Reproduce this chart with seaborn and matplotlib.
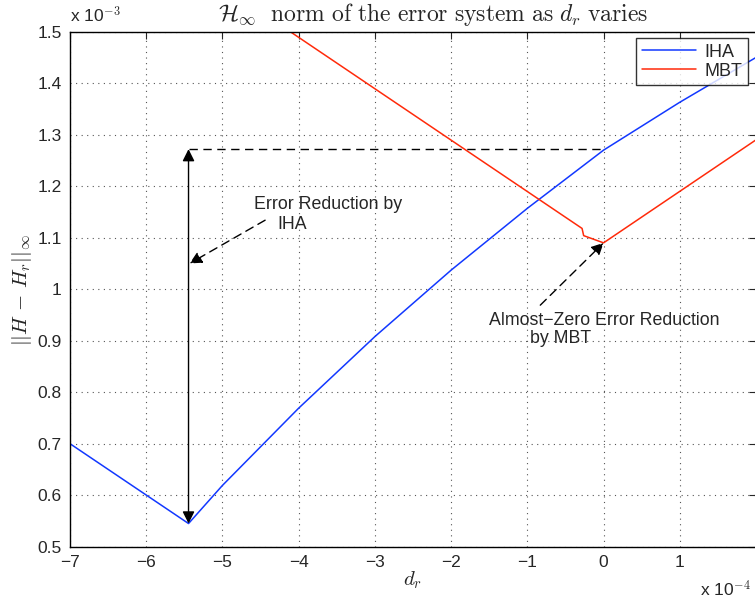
import numpy as np
import pandas as pd
import matplotlib
matplotlib.use("Agg")
import matplotlib.pyplot as plt
import seaborn as sns

# data (x in units of 1e-4, y in units of 1e-3)
iha_x = [-7.0, -5.445, -5.0, -4.0, -3.0, -2.0, -1.0, 0.0, 1.0, 2.0]
iha_y = [0.700, 0.545, 0.619, 0.769, 0.908, 1.037, 1.157, 1.270, 1.363, 1.450]
mbt_x = [-4.11, -0.282, -0.261, 0.0, 2.0]
mbt_y = [1.500, 1.118, 1.104, 1.090, 1.290]
x_ticks = [-7, -6, -5, -4, -3, -2, -1, 0, 1, 2]
x_labels = ["\u22127", "\u22126", "\u22125", "\u22124", "\u22123", "\u22122", "\u22121", "0", "1", ""]
y_ticks = [0.5, 0.6, 0.7, 0.8, 0.9, 1.0, 1.1, 1.2, 1.3, 1.4, 1.5]
y_labels = ["0.5", "0.6", "0.7", "0.8", "0.9", "1", "1.1", "1.2", "1.3", "1.4", "1.5"]

sns.set_style("white")
plt.rcParams['font.family'] = ['Liberation Sans', 'DejaVu Sans']
plt.rcParams['mathtext.fontset'] = 'cm'

df = pd.concat([
    pd.DataFrame({"x": iha_x, "y": iha_y, "method": "IHA"}),
    pd.DataFrame({"x": mbt_x, "y": mbt_y, "method": "MBT"}),
])

fig = plt.figure(figsize=(7.55, 5.99), dpi=100)
ax = fig.add_axes([70/755, (599-546.7)/599, (756-70)/755, (546.7-31.7)/599])
sns.lineplot(data=df, x="x", y="y", hue="method", sort=False, estimator=None,
             palette={"IHA": "#1238ff", "MBT": "#ff2a0a"}, linewidth=1.1, ax=ax,
             legend=False)

ax.set_xlim(-7, 2)
ax.set_ylim(0.5, 1.5)
ax.set_xticks(x_ticks)
ax.set_xticklabels(x_labels, fontsize=12.5)
ax.set_yticks(y_ticks)
ax.set_yticklabels(y_labels, fontsize=12.5)
ax.tick_params(direction='in', top=True, right=True, length=5, width=0.8, pad=6)
ax.grid(True, linestyle=(0, (1, 4)), color='#555555', linewidth=0.8)
for s in ax.spines.values():
    s.set_color('black')
    s.set_linewidth(1.0)
ax.set_xlabel("")
ax.set_ylabel("")

# legend
from matplotlib.lines import Line2D
handles = [Line2D([], [], color="#1238ff", lw=1.1), Line2D([], [], color="#ff2a0a", lw=1.1)]
leg = ax.legend(handles, ["IHA", "MBT"], loc='upper right', bbox_to_anchor=(0.9885, 0.987),
                fontsize=13, frameon=True, fancybox=False, handlelength=3.0,
                handletextpad=0.5, borderpad=0.3, labelspacing=0.1, borderaxespad=0)
leg.get_frame().set_edgecolor('black')
leg.get_frame().set_linewidth(1.0)

# annotations
xv, ytop = -5.445, 1.272
ax.plot([xv, 0.0], [ytop, ytop], color='black', linestyle=(0, (6, 4)), linewidth=1.0)
ax.annotate("", xy=(xv, ytop), xytext=(xv, 0.545),
            arrowprops=dict(arrowstyle='<|-|>', color='black', lw=1.0,
                            mutation_scale=18, shrinkA=0, shrinkB=0))
ax.annotate("", xy=(-5.43, 1.050), xytext=(-4.44, 1.134),
            arrowprops=dict(arrowstyle='-|>', color='black', lw=1.0, linestyle=(0, (6, 4)),
                            mutation_scale=18, shrinkA=0, shrinkB=0))
ax.annotate("", xy=(0.0, 1.090), xytext=(-0.83, 0.969),
            arrowprops=dict(arrowstyle='-|>', color='black', lw=1.0, linestyle=(0, (6, 4)),
                            mutation_scale=18, shrinkA=0, shrinkB=0))
ax.text(-3.62, 1.164, "Error Reduction by", ha='center', va='center', fontsize=12.8)
ax.text(-4.08, 1.125, "IHA", ha='center', va='center', fontsize=12.8)
ax.text(0.01, 0.939, "Almost\u2212Zero Error Reduction", ha='center', va='center', fontsize=12.8)
ax.text(-0.56, 0.904, "by MBT", ha='center', va='center', fontsize=12.8)

# titles / labels
fig.text(433/755, 1 - 14/599,
         r"$\mathcal{H}_\infty\ \ \mathrm{norm\ of\ the\ error\ system\ as}\ d_r\ \mathrm{varies}$",
         ha='center', va='center', fontsize=17)
fig.text(22/755, 1 - 290/599, r"$||H\,-\,H_r||_\infty$", rotation=90,
         ha='center', va='center', fontsize=15)
fig.text(413/755, 1 - 580/599, r"$d_r$", ha='center', va='center', fontsize=15)
fig.text(70/755, 1 - 15/599, r"x 10$^{-3}$", ha='left', va='center', fontsize=12.5)
fig.text(700/755, 1 - 589/599, r"x 10$^{-4}$", ha='left', va='center', fontsize=12.5)

fig.savefig("out.png", dpi=100)
